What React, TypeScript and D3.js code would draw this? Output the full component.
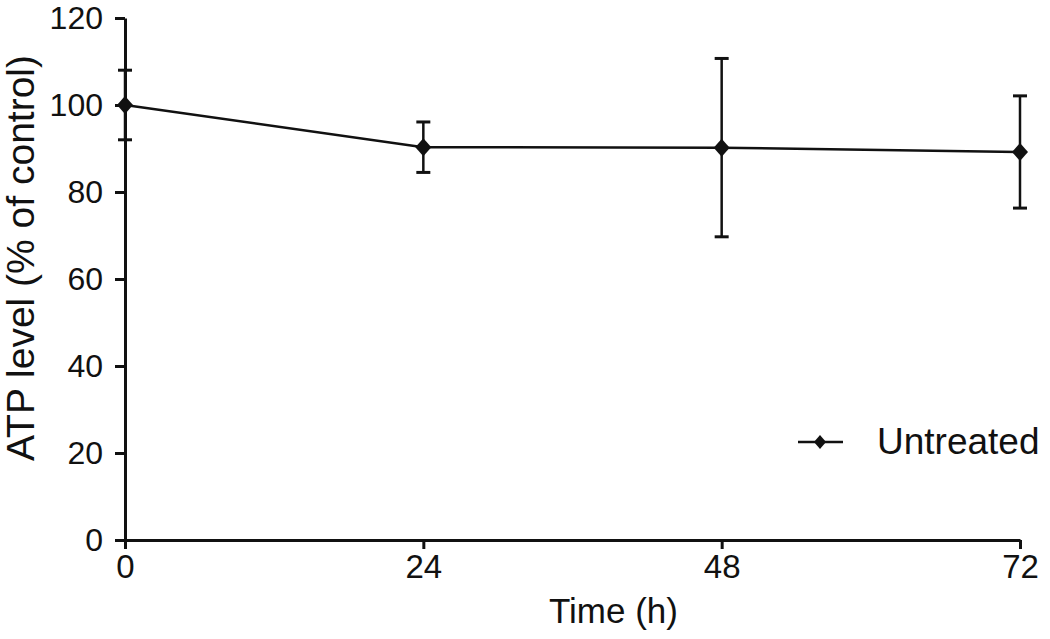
import { useEffect, useRef } from "react";
import * as d3 from "d3";

// time points (h) and ATP level readings
const times = [0, 24, 48, 72];
const atpMean = [100, 90.3, 90.2, 89.2];
const atpError = [8, 5.8, 20.5, 12.9];
const yTicks = [0, 20, 40, 60, 80, 100, 120];
const xTicks = [0, 24, 48, 72];
const seriesName = "Untreated";

const WIDTH = 1050;
const HEIGHT = 639;
const margin = { left: 125, right: 30, top: 18, bottom: 99 };
const FONT = "'Liberation Sans', Arial, Helvetica, sans-serif";

const diamond = (cx: number, cy: number, hw: number, hh: number) =>
  `M${cx},${cy - hh}L${cx + hw},${cy}L${cx},${cy + hh}L${cx - hw},${cy}Z`;

export default function App() {
  const svgRef = useRef<SVGSVGElement>(null);

  useEffect(() => {
    const svg = d3.select(svgRef.current);
    svg.selectAll("*").remove();

    const boundsWidth = WIDTH - margin.left - margin.right;
    const boundsHeight = HEIGHT - margin.top - margin.bottom;

    const xScale = d3.scaleLinear().domain([0, 72]).range([0, boundsWidth]);
    const yScale = d3.scaleLinear().domain([0, 120]).range([boundsHeight, 0]);

    const data = times.map((t, i) => ({ t, v: atpMean[i], e: atpError[i] }));

    const g = svg
      .append("g")
      .attr("transform", `translate(${margin.left},${margin.top})`);

    // y axis
    const yAxis = g
      .append("g")
      .call(d3.axisLeft(yScale).tickValues(yTicks).tickSize(10).tickPadding(12).tickSizeOuter(0));
    yAxis.select(".domain").attr("stroke-width", 3).attr("stroke", "#111");
    yAxis.selectAll(".tick line").attr("stroke-width", 3).attr("stroke", "#111");
    yAxis
      .selectAll(".tick text")
      .attr("font-family", FONT)
      .attr("font-size", 32)
      .attr("fill", "#111");

    // x axis
    const xAxis = g
      .append("g")
      .attr("transform", `translate(0,${boundsHeight})`)
      .call(d3.axisBottom(xScale).tickValues(xTicks).tickSize(9).tickPadding(6).tickSizeOuter(0));
    xAxis.select(".domain").attr("stroke-width", 3).attr("stroke", "#111");
    xAxis.selectAll(".tick line").attr("stroke-width", 3).attr("stroke", "#111");
    xAxis
      .selectAll(".tick text")
      .attr("font-family", FONT)
      .attr("font-size", 33)
      .attr("fill", "#111");

    // axis titles
    g.append("text")
      .attr("transform", `translate(${-margin.left + 34},${258 - margin.top}) rotate(-90)`)
      .attr("text-anchor", "middle")
      .attr("font-family", FONT)
      .attr("font-size", 39)
      .attr("fill", "#111")
      .text("ATP level (% of control)");

    g.append("text")
      .attr("x", xScale(39.3))
      .attr("y", boundsHeight + 83)
      .attr("text-anchor", "middle")
      .attr("font-family", FONT)
      .attr("font-size", 35)
      .attr("fill", "#111")
      .text("Time (h)");

    // line
    const line = d3
      .line<{ t: number; v: number }>()
      .x((d) => xScale(d.t))
      .y((d) => yScale(d.v));

    g.append("path")
      .datum(data)
      .attr("fill", "none")
      .attr("stroke", "#111")
      .attr("stroke-width", 2.5)
      .attr("d", line);

    // error bars
    const capW = 7;
    const eb = g.selectAll(".err").data(data).enter().append("g").attr("class", "err");
    eb.append("line")
      .attr("x1", (d) => xScale(d.t))
      .attr("x2", (d) => xScale(d.t))
      .attr("y1", (d) => yScale(d.v + d.e))
      .attr("y2", (d) => yScale(d.v - d.e))
      .attr("stroke", "#111")
      .attr("stroke-width", 2.5);
    eb.append("line")
      .attr("x1", (d) => xScale(d.t) - capW)
      .attr("x2", (d) => xScale(d.t) + capW)
      .attr("y1", (d) => yScale(d.v + d.e))
      .attr("y2", (d) => yScale(d.v + d.e))
      .attr("stroke", "#111")
      .attr("stroke-width", 3);
    eb.append("line")
      .attr("x1", (d) => xScale(d.t) - capW)
      .attr("x2", (d) => xScale(d.t) + capW)
      .attr("y1", (d) => yScale(d.v - d.e))
      .attr("y2", (d) => yScale(d.v - d.e))
      .attr("stroke", "#111")
      .attr("stroke-width", 3);

    // markers
    g.selectAll(".marker")
      .data(data)
      .enter()
      .append("path")
      .attr("class", "marker")
      .attr("d", (d) => diamond(xScale(d.t), yScale(d.v), 8, 9))
      .attr("fill", "#111");

    // legend
    const lg = svg.append("g").attr("transform", "translate(798,442)");
    lg.append("line")
      .attr("x1", 0)
      .attr("x2", 45)
      .attr("y1", 0)
      .attr("y2", 0)
      .attr("stroke", "#111")
      .attr("stroke-width", 2.5);
    lg.append("path").attr("d", diamond(22, 0, 6, 7)).attr("fill", "#111");
    lg.append("text")
      .attr("x", 79)
      .attr("y", 12)
      .attr("font-family", FONT)
      .attr("font-size", 37)
      .attr("fill", "#111")
      .text(seriesName);
  }, []);

  return (
    <svg
      ref={svgRef}
      width={WIDTH}
      height={HEIGHT}
      style={{ position: "absolute", left: 0, top: 0, background: "#fff" }}
    ></svg>
  );
}
